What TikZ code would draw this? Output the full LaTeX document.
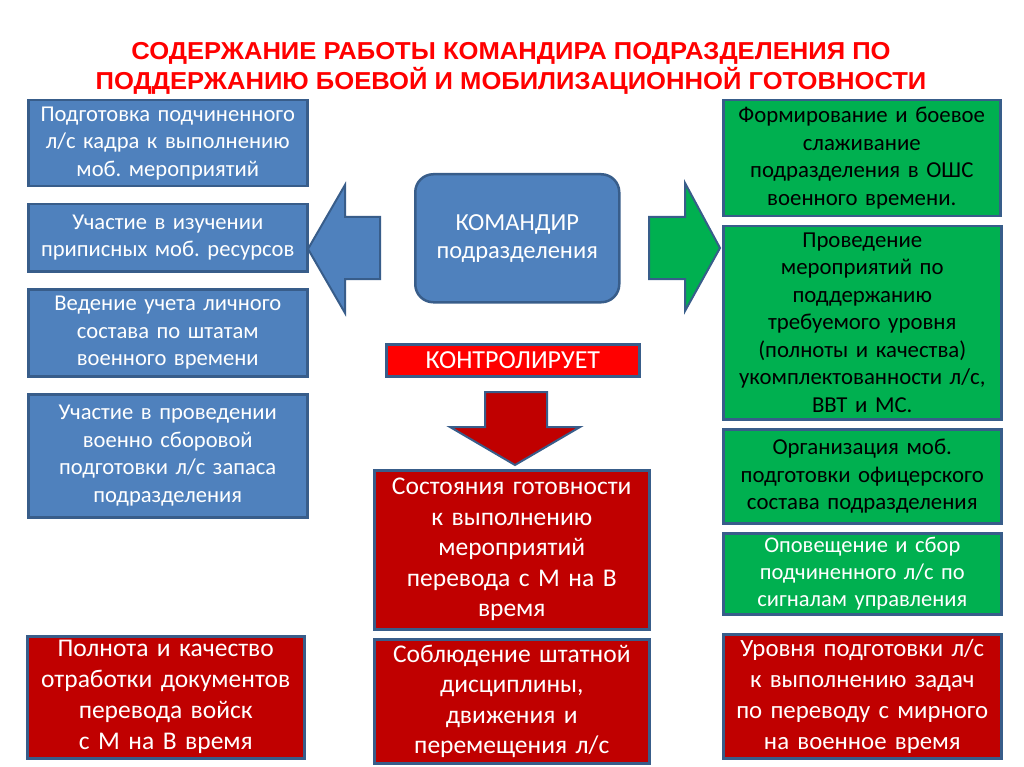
\documentclass[tikz,border=0pt]{standalone}
\usepackage{fontspec}
\setmainfont{Carlito}
\newfontfamily\titlefont[FakeStretch=1.045]{Liberation Sans}
\usetikzlibrary{positioning}
\definecolor{DeskBlue}{HTML}{4F81BD}
\definecolor{DeskEdge}{HTML}{385D8A}
\definecolor{DeskGreen}{HTML}{00B050}
\definecolor{DeskRed}{HTML}{C00000}
\definecolor{TitleRed}{HTML}{FF0000}

\tikzset{
  card/.style={draw=DeskEdge,line width=2.5pt,align=center,inner sep=2pt,anchor=north west},
  bluecard/.style={card,fill=DeskBlue,text=white,font=\fontsize{22.6}{27.5}\selectfont},
  greencard/.style={card,fill=DeskGreen,text=black,font=\fontsize{22.8}{27.5}\selectfont},
  redcard/.style={card,fill=DeskRed,text=white,font=\fontsize{25.5}{31}\selectfont},
  blockarrow/.style={draw=DeskEdge,line width=2pt,line join=miter}
}

\begin{document}
\frenchspacing
\begin{tikzpicture}[x=1pt,y=-1pt]
\path[use as bounding box] (0,0) rectangle (1024,767);
\fill[white] (0,0) rectangle (1024,767);
% title
\node[text=TitleRed,align=center,font=\titlefont\bfseries\fontsize{24.5}{29.5}\selectfont] (title) at (511,68.5)
  {СОДЕРЖАНИЕ РАБОТЫ КОМАНДИРА ПОДРАЗДЕЛЕНИЯ ПО\\ПОДДЕРЖАНИЮ БОЕВОЙ И МОБИЛИЗАЦИОННОЙ ГОТОВНОСТИ};
% left column
\node[bluecard,minimum width=279pt,minimum height=86pt,text width=272pt] (kadr) at (27,99)
  {Подготовка подчиненного\\л/с кадра к выполнению\\моб. мероприятий};
\node[bluecard,minimum width=279pt,minimum height=67pt,text width=272pt] (resursy) at (27,203)
  {Участие в изучении\\приписных моб. ресурсов};
\node[bluecard,minimum width=279pt,minimum height=87pt,text width=272pt] (uchet) at (27,288)
  {Ведение учета личного\\состава по штатам\\военного времени};
\node[bluecard,minimum width=279pt,minimum height=123pt,text width=272pt] (zapas) at (27,393)
  {Участие в проведении\\военно сборовой\\подготовки л/с запаса\\подразделения};
\node[redcard,minimum width=277pt,minimum height=122pt,text width=272pt] (dokum) at (26,635)
  {Полнота и качество\\отработки документов\\перевода войск\\с М на В время};
% centre
\node[card,fill=DeskBlue,text=white,rounded corners=18pt,font=\fontsize{24.5}{28}\selectfont,
  minimum width=204pt,minimum height=128pt] (komandir) at (414,173)
  {КОМАНДИР\\подразделения};
\node[card,fill=TitleRed,text=white,font=\fontsize{26}{30}\selectfont,
  minimum width=253pt,minimum height=32pt,inner sep=0pt] (kontrol) at (385,343) {КОНТРОЛИРУЕТ};
\node[redcard,minimum width=275pt,minimum height=159pt,text width=270pt,
  font=\fontsize{25.5}{30.5}\selectfont] (sostoyanie) at (373,469)
  {Состояния готовности\\к выполнению\\мероприятий\\перевода с М на В\\время};
\node[redcard,minimum width=275pt,minimum height=124pt,text width=270pt,
  font=\fontsize{25.5}{30.5}\selectfont] (distsiplina) at (373,638)
  {Соблюдение штатной\\дисциплины,\\движения и\\перемещения л/с};
% right column
\node[greencard,minimum width=277pt,minimum height=116pt,text width=272pt] (slazh) at (722,99)
  {Формирование и боевое\\слаживание\\подразделения в ОШС\\военного времени.};
\node[greencard,minimum width=278pt,minimum height=193pt,text width=272pt] (komplekt) at (722,225)
  {Проведение\\мероприятий по\\поддержанию\\требуемого уровня\\(полноты и качества)\\укомплектованности л/с,\\ВВТ и МС.};
\node[greencard,minimum width=278pt,minimum height=94pt,text width=272pt] (ofitser) at (722,428)
  {Организация моб.\\подготовки офицерского\\состава подразделения};
\node[greencard,text=white,minimum width=278pt,minimum height=81pt,text width=272pt,
  font=\fontsize{22.5}{27}\selectfont] (opovesh) at (722,532)
  {Оповещение и сбор\\подчиненного л/с по\\сигналам управления};
\node[redcard,minimum width=278pt,minimum height=124pt,text width=272pt,
  font=\fontsize{24.8}{31}\selectfont] (uroven) at (722,633)
  {Уровня подготовки л/с\\к выполнению задач\\по переводу с мирного\\на военное время};
% block arrows
\draw[blockarrow,fill=DeskBlue] (308,249) -- (345,185) -- (345,217) -- (380,217)
  -- (380,279) -- (345,279) -- (345,313) -- cycle;
\draw[blockarrow,fill=DeskGreen] (649,217) -- (685,217) -- (685,183) -- (720,248)
  -- (685,311) -- (685,279) -- (649,279) -- cycle;
\draw[blockarrow,fill=DeskRed] (485,392) -- (547,392) -- (547,427) -- (580,427)
  -- (515,465) -- (450,427) -- (485,427) -- cycle;
\end{tikzpicture}
\end{document}
